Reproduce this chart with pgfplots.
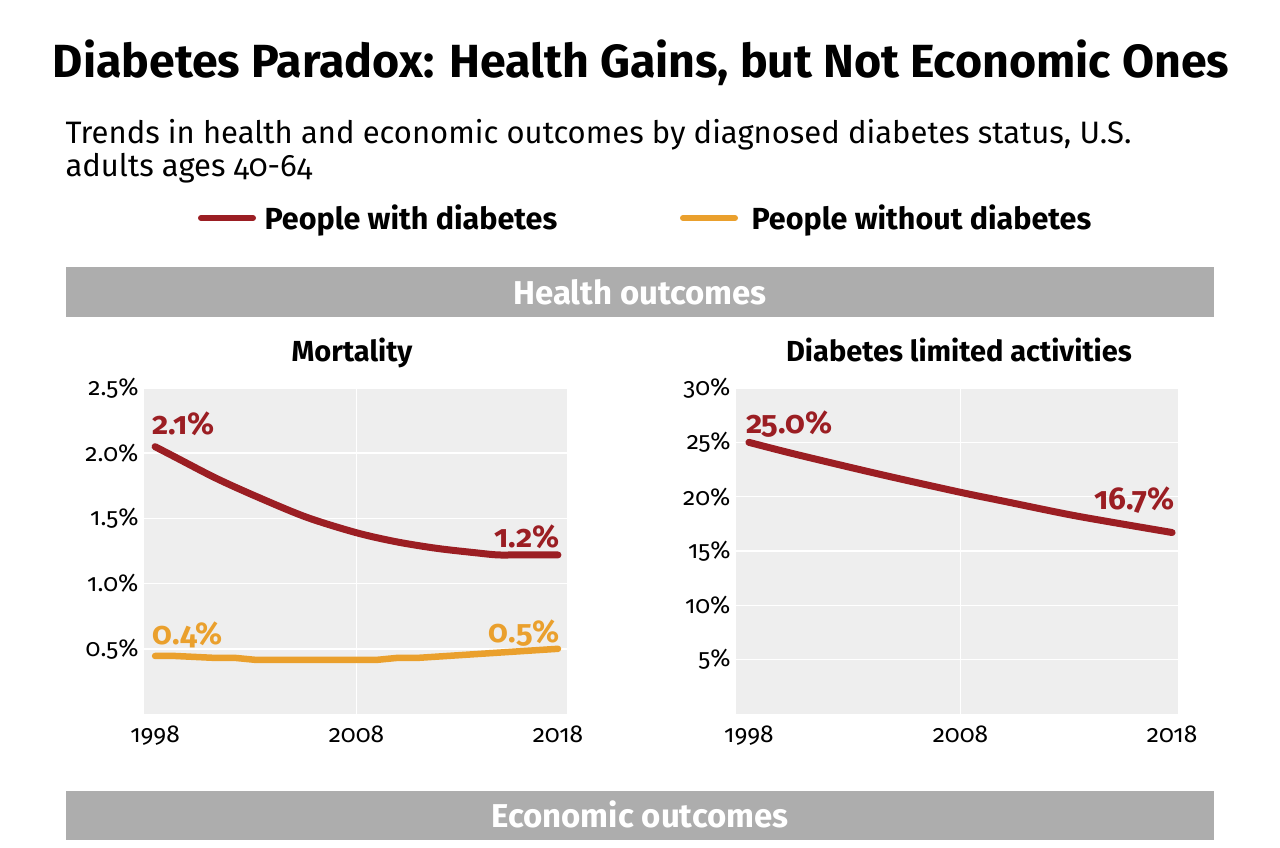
\documentclass[border=0pt]{standalone}
\usepackage{pgfplots}
\pgfplotsset{compat=1.18}
\usepackage{fontspec}
\setmainfont{Fira Sans}[Numbers=OldStyle]
\definecolor{dred}{RGB}{155,30,35}
\definecolor{dorange}{RGB}{234,160,45}
\definecolor{band}{RGB}{173,173,173}
\definecolor{plotbg}{RGB}{238,238,238}
\tikzset{
  redline/.style={dred, line width=7pt, line cap=round, line join=round},
  orline/.style={dorange, line width=6.5pt, line cap=round, line join=round},
  dlab/.style={font=\fontsize{31.5}{34}\selectfont\bfseries},
}
\pgfplotsset{
  mystyle/.style={
    scale only axis,
    height=326pt,
    axis background/.style={fill=plotbg},
    axis line style={draw=none},
    major tick length=0pt,
    tick style={draw=none},
    ymin=0,
    xtick={1998,2008,2018},
    xticklabels={1998,2008,2018},
    extra x ticks={2008},
    extra x tick labels={},
    extra x tick style={grid=major},
    ymajorgrids,
    grid style={white, line width=1.6pt},
    ticklabel style={font=\fontsize{24.5}{27}\selectfont},
    xticklabel style={yshift=-8pt},
    yticklabel style={xshift=-2pt},
    clip=false,
  },
}
\begin{document}
\begin{tikzpicture}[x=1pt,y=1pt]
\fill[white] (0,0) rectangle (1280,-848);
% title
\node[anchor=base, font=\fontsize{46.5}{52}\selectfont\bfseries] at (641,-78) {Diabetes Paradox: Health Gains, but Not Economic Ones};
\node[anchor=base west, font=\fontsize{31}{36}\selectfont] at (62,-144) {Trends in health and economic outcomes by diagnosed diabetes status, U.S.};
\node[anchor=base west, font=\fontsize{31}{36}\selectfont] at (62,-176) {adults ages 40-64};
% legend
\draw[redline, line width=6pt] (201,-218) -- (253,-218);
\node[anchor=base west, font=\fontsize{30.5}{34}\selectfont\bfseries] at (261,-229) {People with diabetes};
\draw[orline, line width=6pt] (683,-218) -- (735,-218);
\node[anchor=base west, font=\fontsize{30.5}{34}\selectfont\bfseries] at (748,-229) {People without diabetes};
% bands
\fill[band] (66,-267) rectangle (1214,-317);
\node[anchor=base, text=white, font=\fontsize{33}{36}\selectfont\bfseries] at (640,-304) {Health outcomes};
\fill[band] (66,-791) rectangle (1214,-840);
\node[anchor=base, text=white, font=\fontsize{33}{36}\selectfont\bfseries] at (640,-827) {Economic outcomes};
% subplot titles
\node[anchor=base, font=\fontsize{29}{32}\selectfont\bfseries] at (352,-361) {Mortality};
\node[anchor=base, font=\fontsize{29}{32}\selectfont\bfseries] at (959,-361) {Diabetes limited activities};

\begin{axis}[mystyle,
  at={(144pt,-714pt)}, anchor=south west,
  width=423pt,
  xmin=1997.45, xmax=2018.45,
  ymax=2.5,
  ytick={0.5,1,1.5,2,2.5},
  yticklabels={0.5\%,1.0\%,1.5\%,2.0\%,2.5\%},
]
\addplot[redline, smooth, tension=0.5] coordinates {
(1998,2.05) (1999,1.97) (2001,1.81) (2003,1.67) (2005.5,1.51) (2008,1.39)
(2010,1.32) (2012,1.27) (2014,1.235) (2015,1.22) (2016,1.22) (2018,1.22)};
\addplot[orline] coordinates {
(1998,0.445) (1999,0.445) (2001,0.43) (2002,0.43) (2003,0.415) (2006,0.415)
(2009,0.415) (2010,0.43) (2011,0.43) (2014,0.46) (2018,0.50)};
\node[dlab, anchor=base west, text=dred] at (axis cs:1997.7,2.14) {2.1\%};
\node[dlab, anchor=base east, text=dred] at (axis cs:2018.25,1.28) {1.2\%};
\node[dlab, anchor=base west, text=dorange] at (axis cs:1997.7,0.53) {0.4\%};
\node[dlab, anchor=base east, text=dorange] at (axis cs:2018.25,0.545) {0.5\%};
\end{axis}

\begin{axis}[mystyle,
  at={(736pt,-714pt)}, anchor=south west,
  width=442pt,
  xmin=1997.39, xmax=2018.28,
  ymax=30,
  ytick={5,10,15,20,25,30},
  yticklabels={5\%,10\%,15\%,20\%,25\%,30\%},
]
\addplot[redline, smooth] coordinates {
(1998,25.0) (2000,24.0) (2003,22.6) (2005,21.7) (2008,20.4) (2010,19.6)
(2013,18.4) (2015,17.7) (2018,16.7)};
\node[dlab, anchor=base west, text=dred] at (axis cs:1997.7,25.8) {25.0\%};
\node[dlab, anchor=base east, text=dred] at (axis cs:2018.3,18.8) {16.7\%};
\end{axis}
\end{tikzpicture}
\end{document}
